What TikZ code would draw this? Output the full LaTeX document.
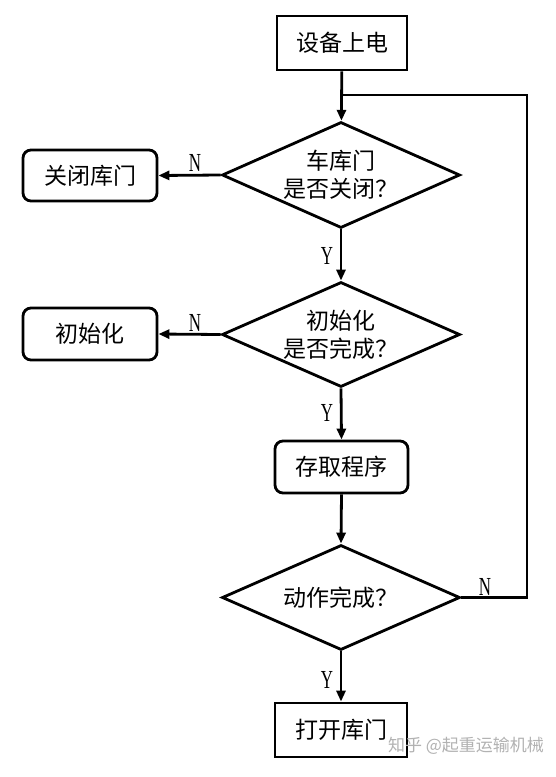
\documentclass[tikz,border=0pt]{standalone}
\usepackage{fontspec}
\setmainfont{Liberation Serif}
\newfontfamily\cjk{Noto Sans CJK SC}[Scale=1]
\usetikzlibrary{shapes.geometric,arrows.meta}
\begin{document}
\begin{tikzpicture}[x=1pt,y=-1pt,
  ln/.style={line width=2.8pt},
  arr/.style={ln,-{Triangle[length=11pt,width=9pt]}},
  sbox/.style={draw,line width=2.8pt,inner sep=0pt,font=\cjk\fontsize{23}{27}\selectfont},
  rbox/.style={sbox,rounded corners=8pt},
  dia/.style={draw,diamond,line width=2.8pt,inner sep=0pt,minimum width=238pt},
  dtxt/.style={font=\cjk\fontsize{23}{28}\selectfont,align=center},
  yn/.style={font=\fontsize{26}{26}\selectfont,inner sep=0pt}
]
\useasboundingbox[fill=white] (0,0) rectangle (556,777);
\node[sbox,minimum width=130pt,minimum height=54pt] (b1) at (342,43) {设备上电};
\node[dia,minimum height=106pt,label={[dtxt]center:{车库门\\是否关闭？}}] (d1) at (341,175) {};
\node[rbox,minimum width=134pt,minimum height=51pt] (c1) at (90,175.5) {关闭库门};
\node[dia,minimum height=105pt,label={[dtxt]center:{初始化\\是否完成？}}] (d2) at (341,334.5) {};
\node[rbox,minimum width=134pt,minimum height=52pt] (c2) at (90,334) {初始化};
\node[rbox,minimum width=133pt,minimum height=52pt] (b3) at (341.5,467) {存取程序};
\node[dia,minimum height=105pt,label={[dtxt]center:{动作完成？}}] (d3) at (341,597.5) {};
\node[sbox,minimum width=132pt,minimum height=54pt] (b4) at (341,730) {打开库门};
\coordinate (j) at (342,95);
\coordinate (r) at (527,597.5);
\draw[arr] (b1) -- (d1);
\draw[arr] (d1.west) -- (c1.east);
\draw[arr] (d1.south) -- (d2.north);
\draw[arr] (d2.west) -- (c2.east);
\draw[arr] (d2.south) -- (b3.north);
\draw[arr] (b3.south) -- (d3.north);
\draw[arr] (d3.south) -- (b4.north);
\draw[ln,line join=miter] (d3.east) -- (r) |- (j);
\node[yn] (n1) at (195,163) {\scalebox{0.65}[1]{N}};
\node[yn] (n2) at (195,323) {\scalebox{0.65}[1]{N}};
\node[yn] (n3) at (485,587) {\scalebox{0.65}[1]{N}};
\node[yn] (y1) at (327,256) {\scalebox{0.65}[1]{Y}};
\node[yn] (y2) at (327,413) {\scalebox{0.65}[1]{Y}};
\node[yn] (y3) at (327,680) {\scalebox{0.65}[1]{Y}};
\node[font=\cjk\fontsize{17}{17}\selectfont,text=black!30,inner sep=0pt] (wm) at (466,746) {知乎\ @起重运输机械};
\end{tikzpicture}
\end{document}
